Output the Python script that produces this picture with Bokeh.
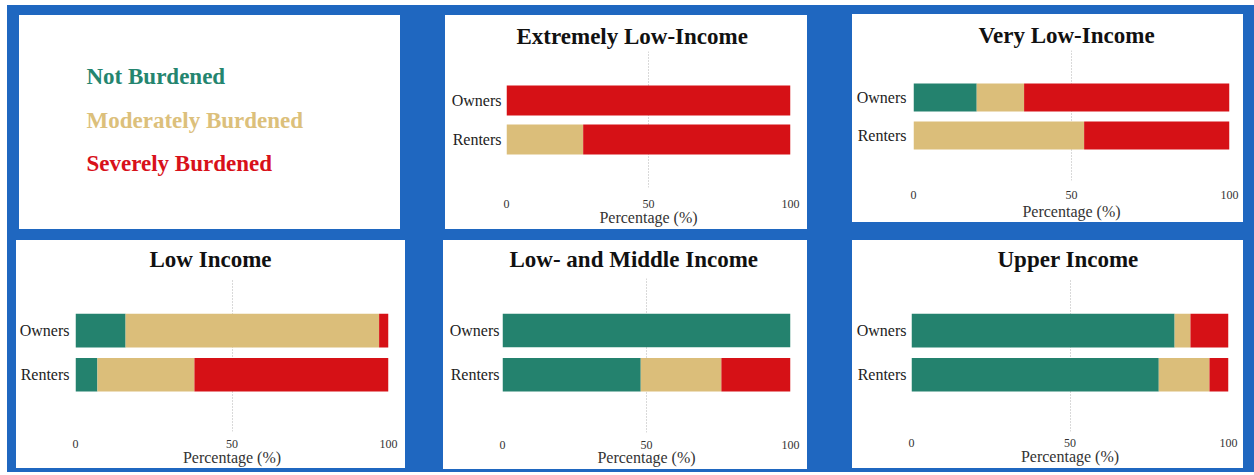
from bokeh.plotting import figure
from bokeh.models import Range1d, FixedTicker, ColumnDataSource, Row, Column
from bokeh.embed import file_html
from bokeh.resources import INLINE
from bokeh.core.properties import value

# ---- data -----------------------------------------------------------------
# tenure groups, listed bottom-to-top on each chart
tenure = ["Renters", "Owners"]
burden_levels = ["Not Burdened", "Moderately Burdened", "Severely Burdened"]
burden_colors = ["#24826e", "#dbbe7a", "#d61116"]
legend_colors = ["#24856f", "#dcc07b", "#d8111a"]
pct_ticks = [0, 50, 100]

income_groups = [
    "Extremely Low-Income",
    "Very Low-Income",
    "Low Income",
    "Low- and Middle Income",
    "Upper Income",
]

# share of households (%) as [Renters, Owners]
eli_not = [0, 0]
eli_mod = [27, 0]
eli_sev = [73, 100]

vli_not = [0, 20]
vli_mod = [54, 15]
vli_sev = [46, 65]

li_not = [7, 16]
li_mod = [31, 81]
li_sev = [62, 3]

lmi_not = [48, 100]
lmi_mod = [28, 0]
lmi_sev = [24, 0]

ui_not = [78, 83]
ui_mod = [16, 5]
ui_sev = [6, 12]

panel_values = [
    (eli_not, eli_mod, eli_sev),
    (vli_not, vli_mod, vli_sev),
    (li_not, li_mod, li_sev),
    (lmi_not, lmi_mod, lmi_sev),
    (ui_not, ui_mod, ui_sev),
]

# ---- styling ----------------------------------------------------------------
SERIF = "Liberation Serif"
PAGE_BLUE = "#1f67c0"
CARD = {"background-color": "white"}

# plots sharing a row get the same top/bottom borders
TOP_ROW_BORDER = (36, 42)
BOTTOM_ROW_BORDER = (38, 37)

# per-panel geometry: size, css margin, borders (top, right, bottom, left),
# y padding (below, above), bar height, title offset / standoff / anchor,
# x tick-label standoff, x axis-label standoff, y tick-label standoff
panel_layout = [
    dict(w=362, h=214, margin=(10, 0, 0, 45), vb=TOP_ROW_BORDER, hb=(17, 61),
         ypad=(1.23, 1.256), bar=0.77, t_off=10, t_std=6, t_va="bottom",
         xs=12, xl=-2, ys=5),
    dict(w=391, h=208, margin=(9, 11, 0, 45), vb=TOP_ROW_BORDER, hb=(14, 61),
         ypad=(1.184, 1.237), bar=0.737, t_off=65, t_std=5, t_va="bottom",
         xs=10, xl=1, ys=7),
    dict(w=389, h=228, margin=(11, 0, 0, 9), vb=BOTTOM_ROW_BORDER, hb=(17, 59),
         ypad=(1.285, 1.18), bar=0.76, t_off=74, t_std=10, t_va="top",
         xs=8, xl=-2, ys=6),
    dict(w=364, h=229, margin=(11, 0, 3, 38), vb=BOTTOM_ROW_BORDER, hb=(17, 59),
         ypad=(1.31, 1.18), bar=0.76, t_off=7, t_std=10, t_va="top",
         xs=8, xl=-3, ys=3),
    dict(w=391, h=228, margin=(11, 11, 0, 45), vb=BOTTOM_ROW_BORDER, hb=(15, 59),
         ypad=(1.285, 1.18), bar=0.76, t_off=86, t_std=10, t_va="top",
         xs=7, xl=-2, ys=5),
]


def burden_chart(title, values, g):
    n = len(tenure)
    p = figure(
        width=g["w"], height=g["h"],
        x_range=Range1d(0, 100),
        y_range=Range1d(-g["ypad"][0], n - 1 + g["ypad"][1]),
        output_backend="svg", toolbar_location=None,
        min_border_top=g["vb"][0], min_border_bottom=g["vb"][1],
        min_border_right=g["hb"][0], min_border_left=g["hb"][1],
        margin=g["margin"], title=title, styles=CARD,
    )
    p.outline_line_color = None
    p.background_fill_color = "white"
    p.border_fill_color = "white"

    # stacked horizontal bars
    left = [0] * n
    for vals, color in zip(values, burden_colors):
        right = [a + b for a, b in zip(left, vals)]
        src = ColumnDataSource(dict(y=list(range(n)), left=left, right=right))
        p.hbar(y="y", left="left", right="right", height=g["bar"],
               fill_color=color, line_color=None, source=src)
        left = right

    # title
    p.title.text_font = SERIF
    p.title.text_font_size = "23px"
    p.title.text_font_style = "bold"
    p.title.text_color = "#111111"
    p.title.align = "left"
    p.title.offset = g["t_off"]
    p.title.standoff = g["t_std"]
    p.title.vertical_align = g["t_va"]

    # x axis
    xa = p.xaxis[0]
    xa.ticker = FixedTicker(ticks=pct_ticks)
    xa.axis_line_color = None
    xa.major_tick_line_color = None
    xa.minor_tick_line_color = None
    xa.major_tick_out = 0
    xa.major_tick_in = 0
    xa.minor_tick_out = 0
    xa.major_label_text_font = SERIF
    xa.major_label_text_font_size = "12px"
    xa.major_label_text_color = "#333333"
    xa.major_label_standoff = g["xs"]
    xa.axis_label = "Percentage (%)"
    xa.axis_label_text_font = SERIF
    xa.axis_label_text_font_size = "16px"
    xa.axis_label_text_font_style = "normal"
    xa.axis_label_text_color = "#333333"
    xa.axis_label_standoff = g["xl"]

    # y axis with tenure names
    ya = p.yaxis[0]
    ya.ticker = FixedTicker(ticks=list(range(n)))
    ya.major_label_overrides = {i: t for i, t in enumerate(tenure)}
    ya.axis_line_color = None
    ya.major_tick_line_color = None
    ya.minor_tick_line_color = None
    ya.major_tick_out = 0
    ya.major_tick_in = 0
    ya.minor_tick_out = 0
    ya.major_label_text_font = SERIF
    ya.major_label_text_font_size = "16px"
    ya.major_label_text_color = "#222222"
    ya.major_label_standoff = g["ys"]

    # dotted vertical grid
    p.ygrid.visible = False
    p.xgrid.ticker = FixedTicker(ticks=pct_ticks)
    p.xgrid.grid_line_color = "#b3b3b3"
    p.xgrid.grid_line_dash = "1 2"
    p.xgrid.grid_line_width = 1
    return p


# legend card, with y measured in card pixels from its top edge
LEG_W, LEG_H = 381, 214
leg = figure(
    width=LEG_W, height=LEG_H,
    x_range=Range1d(0, LEG_W),
    y_range=Range1d(LEG_H - TOP_ROW_BORDER[1], TOP_ROW_BORDER[0]),
    output_backend="svg", toolbar_location=None, margin=(10, 0, 0, 12),
    min_border_left=0, min_border_right=0,
    min_border_top=TOP_ROW_BORDER[0], min_border_bottom=TOP_ROW_BORDER[1],
    x_axis_location=None, y_axis_location=None, styles=CARD,
)
leg.grid.visible = False
leg.outline_line_color = None
leg.background_fill_color = "white"
leg.border_fill_color = "white"
leg_src = ColumnDataSource(dict(
    x=[67] * len(burden_levels),
    y=[61 + 43.5 * i for i in range(len(burden_levels))],
    text=burden_levels,
    color=legend_colors,
))
leg.text(x="x", y="y", text="text", text_color="color", source=leg_src,
         text_font=value(SERIF), text_font_style="bold", text_font_size="23px",
         text_align="left", text_baseline="middle")

charts = [burden_chart(t, v, g) for t, v, g in zip(income_groups, panel_values, panel_layout)]

top_row = Row(children=[leg, charts[0], charts[1]], spacing=0)
bottom_row = Row(children=[charts[2], charts[3], charts[4]], spacing=0)
page = Column(children=[top_row, bottom_row], spacing=0, margin=(5, 0, 0, 7),
              styles={"background-color": PAGE_BLUE})

open("out.html", "w").write(file_html(page, INLINE))
